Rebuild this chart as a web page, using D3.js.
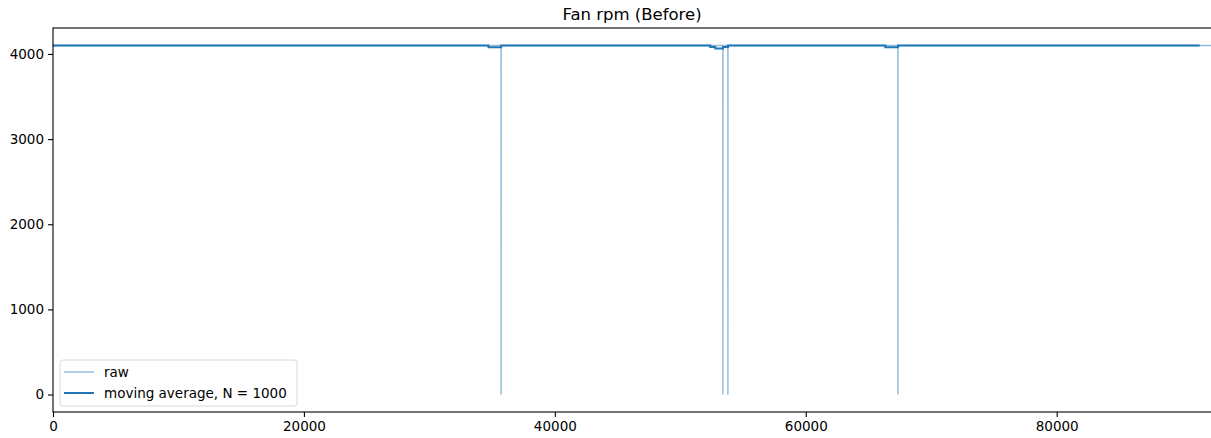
<!DOCTYPE html>
<html>
<head>
<meta charset="utf-8">
<script src="https://cdn.jsdelivr.net/npm/d3@7"></script>
<style>
body { margin:0; background:white; }
svg { font-family: "DejaVu Sans", sans-serif; }
</style>
</head>
<body>
<svg id="chart"></svg>
<script>
var screen = {width:1211, height:438}
var margins = {top:28, right:0, left:53, bottom:26}

// raw signal, sample index and rpm (steady ~4100 with a few drops to 0)
var rawIndex = [0, 35710, 35715, 35720, 53390, 53395, 53400, 53790, 53795, 53800, 67340, 67345, 67350, 92300]
var rawRpm   = [4100, 4100, 0, 4100, 4100, 0, 4100, 4100, 0, 4100, 4100, 0, 4100, 4100]

// moving average (N = 1000), step values starting at each index
var maIndex = [0, 34710, 35720, 52390, 52790, 53400, 53800, 66340, 67350, 91400]
var maRpm   = [4100, 4080, 4100, 4082, 4064, 4082, 4100, 4078, 4100, 4100]

var xDomain = [0, 92300]
var yDomain = [-205, 4305]
var xTicks = [0, 20000, 40000, 60000, 80000]
var yTicks = [0, 1000, 2000, 3000, 4000]

var rawColor = "#8fbbd9"
var maColor = "#1f77b4"

var svg = d3.select("#chart")
  .attr("width", screen.width)
  .attr("height", screen.height)

var width = screen.width - margins.left - margins.right
var height = screen.height - margins.top - margins.bottom

var xScale = d3.scaleLinear().domain(xDomain).range([0, width])
var yScale = d3.scaleLinear().domain(yDomain).range([height, 0])

var g = svg.append("g")
  .attr("transform", "translate(" + margins.left + "," + margins.top + ")")

g.append("clipPath").attr("id", "clip")
  .append("rect").attr("width", width).attr("height", height)

var plot = g.append("g").attr("clip-path", "url(#clip)")

var rawData = rawIndex.map(function(x, i) { return [x, rawRpm[i]] })
var maData = maIndex.map(function(x, i) { return [x, maRpm[i]] })

var rawLine = d3.line()
  .x(function(d) { return xScale(d[0]) })
  .y(function(d) { return yScale(d[1]) })

var maLine = d3.line()
  .curve(d3.curveStepAfter)
  .x(function(d) { return xScale(d[0]) })
  .y(function(d) { return yScale(d[1]) })

plot.append("path")
  .datum(rawData)
  .attr("fill", "none")
  .attr("stroke", rawColor)
  .attr("stroke-width", 1.4)
  .attr("d", rawLine)

plot.append("path")
  .datum(maData)
  .attr("fill", "none")
  .attr("stroke", maColor)
  .attr("stroke-width", 2)
  .attr("d", maLine)

// axes
var xAxis = d3.axisBottom(xScale).tickValues(xTicks).tickSize(5).tickPadding(4).tickFormat(d3.format("d"))
var yAxis = d3.axisLeft(yScale).tickValues(yTicks).tickSize(5).tickPadding(4).tickFormat(d3.format("d"))

var gx = g.append("g")
  .attr("transform", "translate(0," + height + ")")
  .call(xAxis)
var gy = g.append("g").call(yAxis)

;[gx, gy].forEach(function(a) {
  a.select(".domain").remove()
  a.selectAll("text").attr("font-size", 13.5).attr("fill", "black").attr("font-family", "DejaVu Sans, sans-serif")
  a.selectAll("line").attr("stroke", "black").attr("stroke-width", 1.1)
})

// spines
g.append("rect")
  .attr("x", 0).attr("y", 0)
  .attr("width", width + 2).attr("height", height)
  .attr("fill", "none")
  .attr("stroke", "black")
  .attr("stroke-width", 1.1)

// title
svg.append("text")
  .attr("x", margins.left + width / 2)
  .attr("y", 20)
  .attr("text-anchor", "middle")
  .attr("font-size", 16.5)
  .text("Fan rpm (Before)")

// legend
var legendItems = [
  {label:"raw", color:rawColor, w:1.4},
  {label:"moving average, N = 1000", color:maColor, w:2}
]
var legend = svg.append("g").attr("transform", "translate(60,360)")
legend.append("rect")
  .attr("width", 237).attr("height", 46)
  .attr("rx", 3)
  .attr("fill", "white").attr("fill-opacity", 0.8)
  .attr("stroke", "#d9d9d9")

legend.selectAll(".item")
  .data(legendItems)
  .enter()
  .append("g")
  .attr("transform", function(d, i) { return "translate(0," + (12 + i * 21) + ")" })
  .each(function(d) {
    var it = d3.select(this)
    it.append("line").attr("x1", 4).attr("x2", 34).attr("y1", 0).attr("y2", 0)
      .attr("stroke", d.color).attr("stroke-width", d.w)
    it.append("text").attr("x", 44).attr("y", 0).attr("dy", "0.35em")
      .attr("font-size", 13.5).text(d.label)
  })
</script>
</body>
</html>
